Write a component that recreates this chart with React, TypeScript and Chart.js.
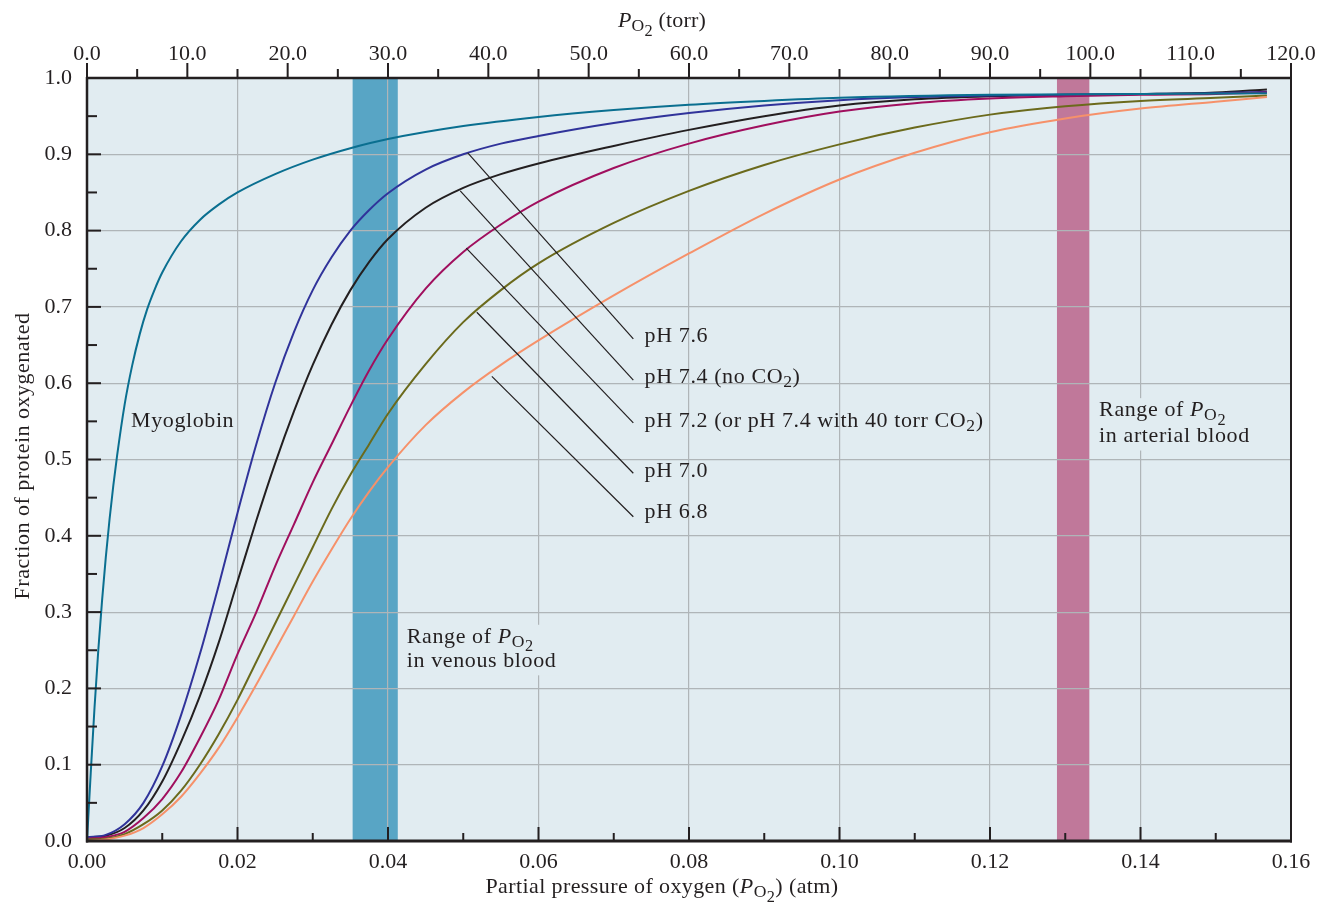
import { useEffect, useRef } from 'react';
import { Chart, registerables } from 'chart.js';

Chart.register(...registerables);

const FONT = '"Liberation Serif", "Times New Roman", serif';
const INK = '#231f20';
const PLOT_BG = '#e1ecf1';
const GRID = '#afb5b8';

// ---- axis ranges / ticks ----
const ATM_MIN = 0;
const ATM_MAX = 0.16;
const ATM_STEP = 0.02;
const TORR_MIN = 0;
const TORR_MAX = 120;
const TORR_STEP = 10;
const FRAC_MIN = 0;
const FRAC_MAX = 1;
const FRAC_STEP = 0.1;

// ---- shaded ranges (atm) ----
const VENOUS_RANGE = [0.0353, 0.0413];
const ARTERIAL_RANGE = [0.1289, 0.1332];

// ---- myoglobin ----
const MB_X = [0, 0.0005, 0.001, 0.0015, 0.002, 0.0025, 0.003, 0.0035, 0.004, 0.005, 0.006, 0.007, 0.008, 0.009, 0.01, 0.0125, 0.015, 0.0175, 0.02, 0.025, 0.03, 0.035, 0.04, 0.05, 0.06, 0.07, 0.08, 0.09, 0.1, 0.12, 0.14, 0.1568];
const MB_Y = [0, 0.09, 0.175, 0.25, 0.315, 0.372, 0.422, 0.466, 0.505, 0.572, 0.623, 0.664, 0.697, 0.723, 0.745, 0.786, 0.814, 0.834, 0.85, 0.874, 0.893, 0.908, 0.92, 0.937, 0.949, 0.958, 0.965, 0.97, 0.974, 0.978, 0.979, 0.98];

// ---- hemoglobin curves (shared x grid, atm) ----
const HB_X = [0, 0.0025, 0.005, 0.0075, 0.01, 0.0125, 0.015, 0.0175, 0.02, 0.0225, 0.025, 0.0275, 0.03, 0.0325, 0.035, 0.0375, 0.04, 0.045, 0.05, 0.055, 0.06, 0.07, 0.08, 0.09, 0.1, 0.11, 0.12, 0.13, 0.14, 0.15, 0.1568];
const PH76_Y = [0.005, 0.008, 0.022, 0.05, 0.098, 0.165, 0.245, 0.335, 0.43, 0.52, 0.6, 0.667, 0.722, 0.765, 0.8, 0.827, 0.849, 0.88, 0.9, 0.914, 0.924, 0.941, 0.954, 0.964, 0.971, 0.975, 0.977, 0.978, 0.979, 0.98, 0.982];
const PH74_Y = [0.005, 0.007, 0.017, 0.04, 0.078, 0.13, 0.19, 0.26, 0.34, 0.42, 0.495, 0.563, 0.624, 0.677, 0.722, 0.759, 0.789, 0.83, 0.856, 0.874, 0.888, 0.911, 0.932, 0.95, 0.964, 0.972, 0.976, 0.978, 0.979, 0.981, 0.985];
const PH72_Y = [0.003, 0.005, 0.012, 0.03, 0.055, 0.09, 0.135, 0.185, 0.245, 0.3, 0.36, 0.415, 0.47, 0.52, 0.57, 0.617, 0.658, 0.724, 0.772, 0.808, 0.838, 0.882, 0.914, 0.938, 0.956, 0.967, 0.973, 0.976, 0.978, 0.979, 0.981];
const PH70_Y = [0.002, 0.003, 0.009, 0.022, 0.04, 0.066, 0.1, 0.14, 0.185, 0.235, 0.285, 0.335, 0.385, 0.435, 0.48, 0.52, 0.56, 0.625, 0.68, 0.722, 0.757, 0.81, 0.852, 0.886, 0.913, 0.935, 0.952, 0.963, 0.97, 0.974, 0.977];
const PH68_Y = [0, 0.002, 0.007, 0.017, 0.035, 0.058, 0.088, 0.122, 0.162, 0.205, 0.25, 0.295, 0.34, 0.382, 0.422, 0.458, 0.49, 0.545, 0.588, 0.624, 0.656, 0.715, 0.77, 0.822, 0.867, 0.902, 0.929, 0.947, 0.96, 0.969, 0.975];

// ---- leader lines for pH labels (data coords) ----
const LEADER_FROM_X = [0.0506, 0.0496, 0.0504, 0.0518, 0.0538];
const LEADER_FROM_Y = [0.902, 0.852, 0.777, 0.693, 0.609];
const LEADER_TO_X = [0.0726, 0.0726, 0.0726, 0.0726, 0.0726];
const LEADER_TO_Y = [0.658, 0.604, 0.548, 0.482, 0.425];
const PH_LABEL_X = 0.0741;
const PH_LABEL_Y = [0.6544, 0.6007, 0.543, 0.4775, 0.423];

type Seg = { t: string; it?: boolean; lv?: number };

const PH_LABELS: Seg[][] = [
  [{ t: 'pH 7.6' }],
  [{ t: 'pH 7.4 (no CO' }, { t: '2', lv: 1 }, { t: ')' }],
  [{ t: 'pH 7.2 (or pH 7.4 with 40 torr CO' }, { t: '2', lv: 1 }, { t: ')' }],
  [{ t: 'pH 7.0' }],
  [{ t: 'pH 6.8' }],
];

const MB_LABEL_X = 0.00585;
const MB_LABEL_Y = 0.5426;
const VENOUS_LABEL_X = 0.0425;
const VENOUS_LABEL_Y = [0.26, 0.2284];
const ARTERIAL_LABEL_X = 0.1345;
const ARTERIAL_LABEL_Y = [0.557, 0.523];

const PO2: Seg[] = [{ t: 'P', it: true }, { t: 'O', lv: 1 }, { t: '2', lv: 2 }];

const LV_SCALE = [1, 0.8, 0.74];
const LV_DY = [0, 0.2, 0.4];

function segFont(s: Seg, size: number) {
  const lv = s.lv ?? 0;
  return `${s.it ? 'italic ' : ''}${(size * LV_SCALE[lv]).toFixed(1)}px ${FONT}`;
}
function richWidth(ctx: CanvasRenderingContext2D, segs: Seg[], size: number) {
  let w = 0;
  for (const s of segs) {
    ctx.font = segFont(s, size);
    w += ctx.measureText(s.t).width;
  }
  return w;
}
function drawRich(ctx: CanvasRenderingContext2D, segs: Seg[], x: number, y: number, size: number, align: 'left' | 'center' = 'left', spacing = 0) {
  (ctx as any).letterSpacing = `${spacing}px`;
  const w = richWidth(ctx, segs, size);
  let cx = align === 'center' ? x - w / 2 : x;
  ctx.textAlign = 'left';
  ctx.textBaseline = 'alphabetic';
  for (const s of segs) {
    ctx.font = segFont(s, size);
    ctx.fillText(s.t, cx, y + size * LV_DY[s.lv ?? 0]);
    cx += ctx.measureText(s.t).width;
  }
  (ctx as any).letterSpacing = '0px';
  return w;
}

const TXT = 22;
const LBL_SP = 0.6;

const decorPlugin = {
  id: 'decor',
  beforeDraw(chart: any) {
    const { ctx, chartArea: a, scales } = chart;
    ctx.save();
    ctx.fillStyle = PLOT_BG;
    ctx.fillRect(a.left, a.top, a.right - a.left, a.bottom - a.top);
    const xs = scales.x;
    const band = (r: number[], c: string) => {
      const x0 = xs.getPixelForValue(r[0]);
      const x1 = xs.getPixelForValue(r[1]);
      ctx.fillStyle = c;
      ctx.fillRect(x0, a.top, x1 - x0, a.bottom - a.top);
    };
    band(VENOUS_RANGE, '#58a5c5');
    band(ARTERIAL_RANGE, '#c0789a');
    ctx.restore();
  },
  afterDatasetsDraw(chart: any) {
    const { ctx, scales } = chart;
    const xs = scales.x;
    const ys = scales.y;
    ctx.save();
    ctx.fillStyle = INK;
    ctx.strokeStyle = INK;
    ctx.lineWidth = 1.2;
    for (let i = 0; i < LEADER_FROM_X.length; i++) {
      ctx.beginPath();
      ctx.moveTo(xs.getPixelForValue(LEADER_FROM_X[i]), ys.getPixelForValue(LEADER_FROM_Y[i]));
      ctx.lineTo(xs.getPixelForValue(LEADER_TO_X[i]), ys.getPixelForValue(LEADER_TO_Y[i]));
      ctx.stroke();
    }
    for (let i = 0; i < PH_LABELS.length; i++) {
      drawRich(ctx, PH_LABELS[i], xs.getPixelForValue(PH_LABEL_X), ys.getPixelForValue(PH_LABEL_Y[i]), TXT, 'left', LBL_SP);
    }
    drawRich(ctx, [{ t: 'Myoglobin' }], xs.getPixelForValue(MB_LABEL_X), ys.getPixelForValue(MB_LABEL_Y), TXT, 'left', LBL_SP);

    const boxed = (lines: Seg[][], xv: number, yv: number[]) => {
      const x = xs.getPixelForValue(xv);
      const y0 = ys.getPixelForValue(yv[0]);
      const y1 = ys.getPixelForValue(yv[1]);
      (ctx as any).letterSpacing = `${LBL_SP}px`;
      let w = 0;
      for (const l of lines) w = Math.max(w, richWidth(ctx, l, TXT));
      (ctx as any).letterSpacing = '0px';
      ctx.fillStyle = PLOT_BG;
      ctx.fillRect(x - 3, y0 - TXT * 0.72 - 2, w + 6, y1 - y0 + TXT * 0.72 + TXT * 0.3 + 4);
      ctx.fillStyle = INK;
      drawRich(ctx, lines[0], x, y0, TXT, 'left', LBL_SP);
      drawRich(ctx, lines[1], x, y1, TXT, 'left', LBL_SP);
    };
    boxed([[{ t: 'Range of ' }, ...PO2], [{ t: 'in venous blood' }]], VENOUS_LABEL_X, VENOUS_LABEL_Y);
    boxed([[{ t: 'Range of ' }, ...PO2], [{ t: 'in arterial blood' }]], ARTERIAL_LABEL_X, ARTERIAL_LABEL_Y);
    ctx.restore();
  },
  afterDraw(chart: any) {
    const { ctx, chartArea: a, scales } = chart;
    ctx.save();
    ctx.strokeStyle = INK;
    ctx.lineCap = 'butt';
    const line = (x0: number, y0: number, x1: number, y1: number, w: number) => {
      ctx.lineWidth = w;
      ctx.beginPath();
      ctx.moveTo(x0, y0);
      ctx.lineTo(x1, y1);
      ctx.stroke();
    };
    // frame
    line(a.left - 1, a.top, a.right + 1, a.top, 2.5);
    line(a.left - 1, a.bottom, a.right + 1, a.bottom, 3);
    line(a.left, a.top - 1, a.left, a.bottom + 1.5, 2.5);
    line(a.right, a.top - 1, a.right, a.bottom + 1.5, 2);

    const mids = (ticks: any[]) => {
      const out: number[] = [];
      for (let i = 0; i < ticks.length - 1; i++) out.push((ticks[i].value + ticks[i + 1].value) / 2);
      return out;
    };
    const xs = scales.x;
    for (const t of xs.ticks) { const p = xs.getPixelForValue(t.value); line(p, a.bottom, p, a.bottom - 14, 2); }
    for (const v of mids(xs.ticks)) { const p = xs.getPixelForValue(v); line(p, a.bottom, p, a.bottom - 8, 2); }
    const x2 = scales.x2;
    for (const t of x2.ticks) { const p = x2.getPixelForValue(t.value); line(p, a.top, p, a.top - 15, 2); }
    for (const v of mids(x2.ticks)) { const p = x2.getPixelForValue(v); line(p, a.top, p, a.top - 9, 2); }
    const ys = scales.y;
    for (const t of ys.ticks) { const p = ys.getPixelForValue(t.value); line(a.left, p, a.left + 14, p, 2); }
    for (const v of mids(ys.ticks)) { const p = ys.getPixelForValue(v); line(a.left, p, a.left + 10, p, 2); }

    // axis titles
    ctx.fillStyle = INK;
    drawRich(ctx, [...PO2, { t: ' (torr)' }], 662, 27, TXT, 'center', 0.2);
    drawRich(ctx, [{ t: 'Partial pressure of oxygen (' }, ...PO2, { t: ') (atm)' }], 662, 893, TXT, 'center', 0.4);
    ctx.save();
    ctx.translate(29, 456);
    ctx.rotate(-Math.PI / 2);
    drawRich(ctx, [{ t: 'Fraction of protein oxygenated' }], 0, 0, TXT, 'center', 0.5);
    ctx.restore();
    ctx.restore();
  },
};

function series(xsArr: number[], ysArr: number[]) {
  return xsArr.map((x, i) => ({ x, y: ysArr[i] }));
}

export default function App() {
  const ref = useRef<HTMLCanvasElement | null>(null);
  useEffect(() => {
    if (!ref.current) return;
    const tickFont = { family: FONT, size: TXT };
    const ds = (label: string, data: any[], color: string) => ({
      label,
      data,
      borderColor: color,
      backgroundColor: color,
      borderWidth: 2,
      pointRadius: 0,
      fill: false,
      cubicInterpolationMode: 'monotone' as const,
    });
    const chart = new Chart(ref.current, {
      type: 'line',
      data: {
        datasets: [
          ds('Myoglobin', series(MB_X, MB_Y), '#0a6f90'),
          ds('pH 6.8', series(HB_X, PH68_Y), '#f6916a'),
          ds('pH 7.0', series(HB_X, PH70_Y), '#6b6a1c'),
          ds('pH 7.2', series(HB_X, PH72_Y), '#a00f5e'),
          ds('pH 7.6', series(HB_X, PH76_Y), '#30339a'),
          ds('pH 7.4 (no CO2)', series(HB_X, PH74_Y), '#231f20'),
        ],
      },
      options: {
        animation: false,
        responsive: false,
        devicePixelRatio: 1,
        layout: { padding: { left: 0, right: 28, top: 0, bottom: 0 } },
        plugins: { legend: { display: false }, tooltip: { enabled: false } },
        scales: {
          x: {
            type: 'linear',
            position: 'bottom',
            min: ATM_MIN,
            max: ATM_MAX,
            ticks: { stepSize: ATM_STEP, autoSkip: false, maxRotation: 0, font: tickFont, color: INK, padding: 8, callback: (v: any) => Number(v).toFixed(2) },
            grid: { color: GRID, lineWidth: 1.2, drawTicks: false },
            border: { display: false },
            afterFit: (s: any) => { s.height = 65; s.paddingLeft = 0; s.paddingRight = 0; },
          },
          x2: {
            type: 'linear',
            position: 'top',
            min: TORR_MIN,
            max: TORR_MAX,
            ticks: { stepSize: TORR_STEP, autoSkip: false, maxRotation: 0, font: tickFont, color: INK, padding: 11, callback: (v: any) => Number(v).toFixed(1) },
            grid: { display: false, drawTicks: false },
            border: { display: false },
            afterFit: (s: any) => { s.height = 78; s.paddingLeft = 0; s.paddingRight = 0; },
          },
          y: {
            type: 'linear',
            min: FRAC_MIN,
            max: FRAC_MAX,
            ticks: { stepSize: FRAC_STEP, autoSkip: false, font: tickFont, color: INK, padding: 15, callback: (v: any) => Number(v).toFixed(1) },
            grid: { color: GRID, lineWidth: 1.2, drawTicks: false },
            border: { display: false },
            afterFit: (s: any) => { s.width = 87; s.paddingTop = 0; s.paddingBottom = 0; },
          },
        },
      } as any,
      plugins: [decorPlugin],
    });
    return () => chart.destroy();
  }, []);
  return (
    <div style={{ position: 'fixed', left: 0, top: 0, width: 1319, height: 906, background: '#fff' }}>
      <canvas ref={ref} width={1319} height={906} style={{ width: 1319, height: 906, display: 'block' }} />
    </div>
  );
}
